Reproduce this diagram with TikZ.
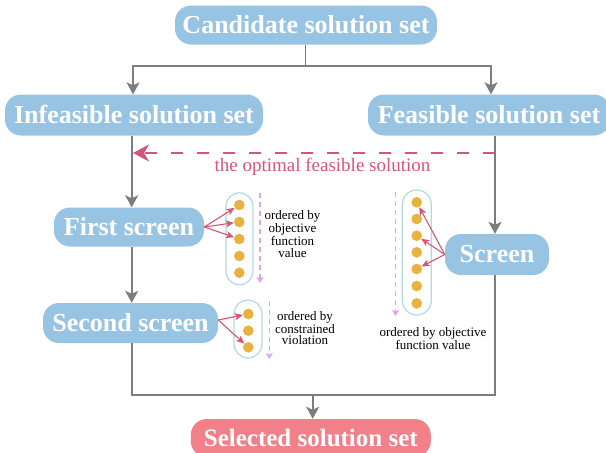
\documentclass[tikz,border=0pt]{standalone}
\usepackage{fontspec}
\setmainfont{Liberation Serif}
\usetikzlibrary{arrows.meta}
\definecolor{boxblue}{RGB}{152,196,228}
\definecolor{boxpink}{RGB}{242,128,136}
\definecolor{flowgray}{RGB}{125,125,125}
\definecolor{pickred}{RGB}{212,86,118}
\definecolor{dotyellow}{RGB}{232,178,64}
\definecolor{capsteal}{RGB}{178,216,226}
\definecolor{orderlilac}{RGB}{216,166,240}
\begin{document}
\begin{tikzpicture}[x=1pt,y=-1pt,
  setbox/.style={fill=boxblue, rounded corners=16pt, text=white,
    font=\fontsize{26}{28}\selectfont\bfseries, inner sep=0pt},
  flow/.style={draw=flowgray, line width=1.8pt,
    -{Stealth[length=12pt,width=13pt,inset=3pt]}},
  trunk/.style={draw=flowgray, line width=1.8pt},
  pick/.style={draw=pickred, line width=1.1pt,
    -{Stealth[length=8pt,width=7pt,inset=2pt]}},
  optarrow/.style={draw=pickred, line width=2.2pt, dash pattern=on 12pt off 14pt,
    -{Stealth[length=16pt,width=17pt,inset=5pt]}},
  dot/.style={circle, fill=dotyellow, inner sep=0pt, minimum size=10.6pt},
  capsule/.style={draw=capsteal, line width=1.2pt, inner sep=0pt},
  order/.style={draw=orderlilac, line width=1.2pt, dash pattern=on 5pt off 4pt,
    -{Stealth[length=6pt,width=7pt,inset=1.5pt]}},
  note/.style={font=\fontsize{13}{11.5}\selectfont, align=center, inner sep=0pt},
]
\useasboundingbox (0,0) rectangle (606,453);

% main boxes
\node[setbox, minimum width=262pt, minimum height=39pt] (cand) at (306,25) {Candidate solution set};
\node[setbox, minimum width=258pt, minimum height=41pt] (inf) at (134,115) {Infeasible solution set};
\node[setbox, minimum width=242pt, minimum height=41pt] (fea) at (489,115) {Feasible solution set};
\node[setbox, minimum width=150pt, minimum height=39pt] (first) at (129,227) {First screen};
\node[setbox, minimum width=175pt, minimum height=40pt] (second) at (130.5,323) {Second screen};
\node[setbox, minimum width=104pt, minimum height=41pt] (screen) at (497,254.5) {Screen};
\node[setbox, fill=boxpink, minimum width=240pt, minimum height=38pt,
  font=\fontsize{25}{27}\selectfont\bfseries] (sel) at (310.8,438) {Selected solution set};

% trunk lines
\coordinate (lt) at (131.7,0);
\coordinate (rt) at (495,0);
\coordinate (split) at (305.5,66);
\coordinate (join) at (312.7,395);

% split of the candidate set
\draw[trunk] (cand.south -| split) -- (split);
\draw[flow] (split) -- (split -| 133,0) -- (inf.north -| 133,0);
\draw[flow] (split) -- (split -| 491,0) -- (fea.north -| 491,0);

% infeasible branch
\draw[flow] (inf.south -| lt) -- (first.north -| lt);
\draw[flow] (first.south -| lt) -- (second.north -| lt);

% feasible branch
\draw[flow] (fea.south -| rt) -- (screen.north -| rt);

% merge into the selected set
\draw[trunk] (second.south -| lt) -- (lt |- join) -- (rt |- join) -- (screen.south -| rt);
\draw[flow] (join) -- (sel.north -| join);

% optimal feasible solution passed back
\coordinate (optS) at (495,153);
\coordinate (optE) at (133,153);
\draw[optarrow] (optS) -- (optE);
\node[font=\fontsize{19}{21}\selectfont, text=pickred, inner sep=0pt] (optlabel) at (322.5,166.5) {the optimal feasible solution};

% first screen: sorted by objective value
\node[capsule, minimum width=27pt, minimum height=92pt, rounded corners=13.5pt] (cap1) at (239.4,238.8) {};
\foreach \i/\y in {1/205,2/222,3/239,4/256,5/272.7}
  \node[dot] (a\i) at (239.3,\y) {};
\coordinate (o1s) at (260,193);
\coordinate (o1e) at (260,283);
\draw[order] (o1s) -- (o1e);
\node[note] (n1) at (292.5,234) {ordered by\\objective\\function\\value};
\foreach \i in {1,2,3}
  \draw[pick] (first.east) -- (a\i);

% second screen: sorted by constraint violation
\node[capsule, minimum width=28pt, minimum height=58pt, rounded corners=14pt] (cap2) at (248,329) {};
\foreach \i/\y in {1/314,2/330.7,3/347.3}
  \node[dot] (b\i) at (248.3,\y) {};
\coordinate (o2s) at (269.3,301);
\coordinate (o2e) at (269.3,359);
\draw[order] (o2s) -- (o2e);
\node[note] (n2) at (305,328) {ordered by\\constrained\\violation};
\foreach \i in {1,3}
  \draw[pick] ([yshift=3pt]second.east) -- (b\i);

% feasible screen: sorted by objective value
\node[capsule, minimum width=29pt, minimum height=125pt, rounded corners=14.5pt] (cap3) at (416.8,252.5) {};
\foreach \i/\y in {1/202.3,2/219,3/235.7,4/252.3,5/269,6/286,7/303.3}
  \node[dot] (c\i) at (416.7,\y) {};
\coordinate (o3s) at (395.5,192);
\coordinate (o3e) at (395.5,316);
\draw[order] (o3s) -- (o3e);
\node[note] (n3) at (433,338.5) {ordered by objective\\function value};
\foreach \i in {1,3,5}
  \draw[pick] (screen.west) -- (c\i);
\end{tikzpicture}
\end{document}
